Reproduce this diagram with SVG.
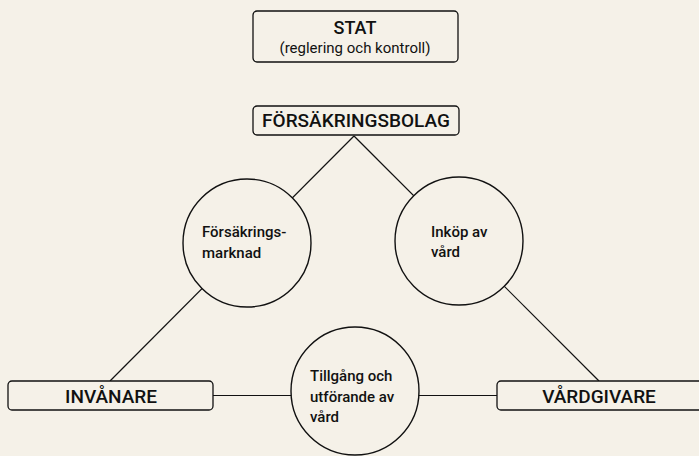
<svg xmlns="http://www.w3.org/2000/svg" width="699" height="456" viewBox="0 0 699 456">
<style>
  .box { fill: #f5f1e8; stroke: #111; stroke-width: 1.3; }
  .circ { fill: #f5f1e8; stroke: #111; stroke-width: 1.4; }
  .conn { stroke: #111; stroke-width: 1.2; fill: none; }
  text { font-family: Roboto, "Liberation Sans", sans-serif; fill: #111; font-weight: 500; }
  .big { font-size: 19px; text-anchor: middle; }
  .sub { font-size: 15px; text-anchor: middle; font-weight: 400; }
  .lbl { font-size: 15px; }
</style>
<rect width="699" height="456" fill="#f5f1e8"/>
<g id="connectors">
  <line class="conn" x1="354" y1="136" x2="110" y2="381"/>
  <line class="conn" x1="354" y1="136" x2="599" y2="381"/>
  <line class="conn" x1="213" y1="395.5" x2="497" y2="395.5"/>
</g>
<g id="stat">
  <rect class="box" x="253" y="11" width="205" height="51" rx="4"/>
  <text class="big" x="355" y="34" style="font-size:18px">STAT</text>
  <text class="sub" x="355" y="53">(reglering och kontroll)</text>
</g>
<g id="forsakringsbolag">
  <rect class="box" x="253" y="106" width="206" height="29" rx="4"/>
  <text class="big" x="356" y="127">FÖRSÄKRINGSBOLAG</text>
</g>
<g id="forsakringsmarknad">
  <circle class="circ" cx="247" cy="243" r="64"/>
  <text class="lbl" x="202" y="237">Försäkrings-</text>
  <text class="lbl" x="202" y="258">marknad</text>
</g>
<g id="inkop">
  <circle class="circ" cx="459" cy="241" r="64"/>
  <text class="lbl" x="431" y="237">Inköp av</text>
  <text class="lbl" x="431" y="257">vård</text>
</g>
<g id="tillgang">
  <circle class="circ" cx="355" cy="391" r="64"/>
  <text class="lbl" x="310" y="381">Tillgång och</text>
  <text class="lbl" x="310" y="402">utförande av</text>
  <text class="lbl" x="310" y="422">vård</text>
</g>
<g id="invanare">
  <rect class="box" x="8" y="381" width="205" height="29" rx="4"/>
  <text class="big" x="111" y="403">INVÅNARE</text>
</g>
<g id="vardgivare">
  <rect class="box" x="497" y="381" width="210" height="29" rx="4"/>
  <text class="big" x="599" y="403">VÅRDGIVARE</text>
</g>
</svg>
